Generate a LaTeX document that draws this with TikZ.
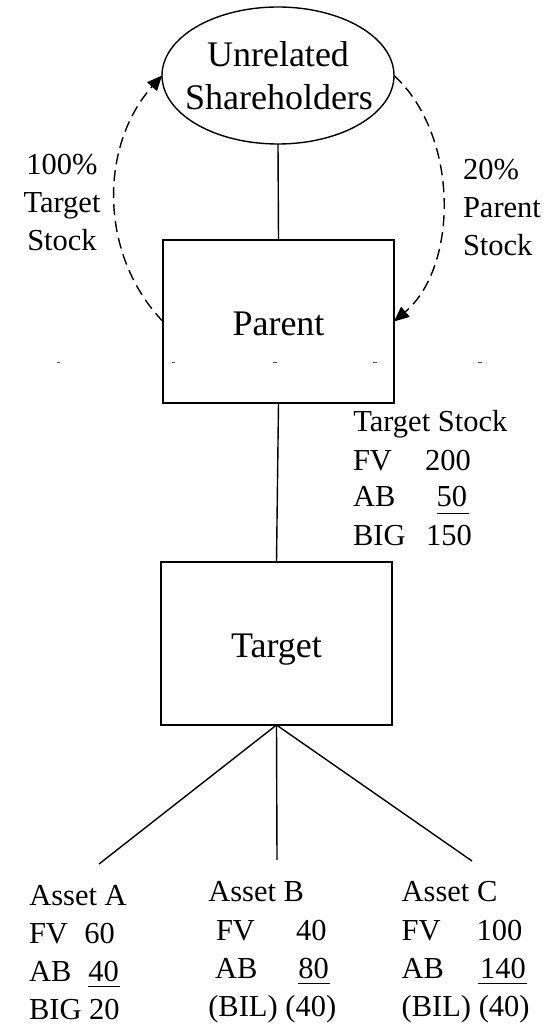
\documentclass[tikz,border=0pt]{standalone}
\usepackage{fontspec}
\setmainfont{Liberation Serif}
\usetikzlibrary{shapes.geometric,arrows.meta}
\begin{document}
\begin{tikzpicture}[x=1pt,y=-1pt,
  every node/.style={inner sep=0pt,outer sep=0pt},
  link/.style={line width=1.4pt},
  frame/.style={draw,line width=1.6pt,minimum width=231pt,minimum height=163pt,
    font=\fontsize{36}{43}\selectfont,text height=27pt,text depth=0pt},
  big/.style={font=\fontsize{36}{43}\selectfont,anchor=base},
  small/.style={font=\fontsize{30.5}{38}\selectfont,anchor=base west},
  smallc/.style={font=\fontsize{30.5}{38}\selectfont,anchor=base},
  flow/.style={line width=1.4pt,dash pattern=on 11pt off 6pt,
    -{Triangle[length=15pt,width=13pt]}},
  uline/.style={line width=1.5pt},
  tick/.style={line width=0.8pt,black!70}]
\useasboundingbox (0,0) rectangle (554,1024);

% shareholders
\node[ellipse,draw,line width=1.4pt,minimum width=232pt,minimum height=137pt] (sh) at (278,75.5) {};
\node[big] (sh1) at (278,66.7) {Unrelated};
\node[big] (sh2) at (279,110) {Shareholders};

% corporations
\node[frame] (parent) at (278.5,321.5) {Parent};
\node[frame] (target) at (276.5,643.5) {Target};

\draw[link] (sh.south) -- (parent.north);
\draw[link] (parent.south) -- (target.north);

% asset branches
\coordinate (ea) at (99,864);
\coordinate (eb) at (277,860);
\coordinate (ec) at (472,861);
\draw[link] (target.south) -- (ea);
\draw[link] (target.south) -- (eb);
\draw[link] (target.south) -- (ec);

% stock exchange flows
\draw[flow] (parent.west) .. controls (99,255) and (99,146) .. (sh.west);
\draw[flow] (sh.east) .. controls (459,135) and (459,266) .. (parent.east);

\node[smallc] (l1) at (62,175) {100\%};
\node[smallc] (l2) at (62,213) {Target};
\node[smallc] (l3) at (62,251) {Stock};
\node[small] (r1) at (463,180) {20\%};
\node[small] (r2) at (463,218) {Parent};
\node[small] (r3) at (463,255) {Stock};

% faint marks
\foreach \x in {58.5,173.5,275,375,480}
  \draw[tick] (\x-1.6,362) -- (\x+1.6,362);

% target stock figures
\node[small] (ts) at (353.3,431.7) {Target Stock};
\node[small] (tsfv) at (353,470) {FV};
\node[small] (tsfvn) at (425,470) {200};
\node[small] (tsab) at (353,506.7) {AB};
\node[small] (tsabn) at (436.7,506.7) {50};
\node[small] (tsbig) at (353,545) {BIG};
\node[small] (tsbign) at (426,545) {150};
\draw[uline] ([yshift=-7pt]tsabn.base west) -- ([yshift=-7pt,xshift=2pt]tsabn.base east);

% asset A
\node[small] (aa) at (29.3,905.7) {Asset A};
\node[small] (aafv) at (29,943.3) {FV};
\node[small] (aafvn) at (84.3,943.3) {60};
\node[small] (aaab) at (29,981.7) {AB};
\node[small] (aaabn) at (88.3,981.7) {40};
\node[small,text depth=0pt] (aabig) at (29,1019) {BIG 20};
\draw[uline] ([yshift=-5pt]aaabn.base west) -- ([yshift=-5pt,xshift=1.5pt]aaabn.base east);

% asset B
\node[small] (ab) at (208.3,901.7) {Asset B};
\node[small] (abfv) at (216,940) {FV};
\node[small] (abfvn) at (296,940) {40};
\node[small] (abab) at (215,978.3) {AB};
\node[small] (ababn) at (298.3,978.3) {80};
\node[small] (abbil) at (208.3,1016.7) {(BIL) (40)};
\draw[uline] ([yshift=-5pt]ababn.base west) -- ([yshift=-5pt,xshift=1pt]ababn.base east);

% asset C
\node[small] (ac) at (401.7,901.7) {Asset C};
\node[small] (acfv) at (401.7,940) {FV};
\node[small] (acfvn) at (476.7,940) {100};
\node[small] (acab) at (401.7,978.3) {AB};
\node[small] (acabn) at (480,978.3) {140};
\node[small] (acbil) at (401.7,1016.7) {(BIL) (40)};
\draw[uline] ([yshift=-5pt,xshift=-1.7pt]acabn.base west) -- ([yshift=-5pt,xshift=1pt]acabn.base east);
\end{tikzpicture}
\end{document}
